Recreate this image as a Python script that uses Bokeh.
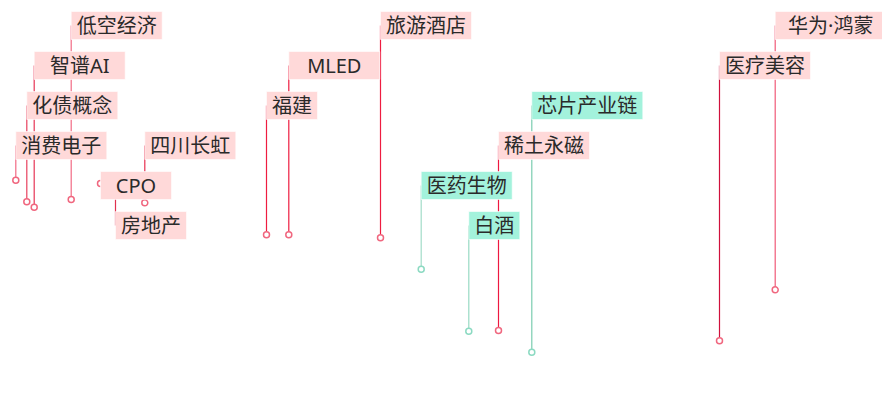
from bokeh.plotting import figure
from bokeh.models import ColumnDataSource, Range1d
from bokeh.core.properties import value
from bokeh.embed import file_html
from bokeh.resources import INLINE

# ---- data ----
names = ["消费电子", "化债概念", "智谱AI", "低空经济", "CPO", "房地产", "四川长虹",
         "福建", "MLED", "旅游酒店", "医药生物", "白酒", "稀土永磁", "芯片产业链",
         "医疗美容", "华为·鸿蒙"]
t_vals = [15.3, 26.3, 33.7, 70.7, 100.0, 115.0, 144.3,
          266.0, 288.3, 380.0, 420.7, 468.3, 498.0, 531.3,
          719.0, 774.7]
y_vals = [220.3, 198.7, 193.3, 201.0, 217.0, 208.0, 197.7,
          165.7, 165.7, 162.7, 131.3, 69.3, 70.0, 48.3,
          59.7, 110.7]
trend = ["up", "up", "up", "up", "up", "up", "up",
         "up", "up", "up", "down", "down", "up", "down",
         "up", "up"]

# ---- styles ----
line_colors = {
    "消费电子": "#f26a84", "化债概念": "#e8405e", "智谱AI": "#e63556", "低空经济": "#f26a84",
    "CPO": "#f26a84", "房地产": "#e0304f", "四川长虹": "#e83050", "福建": "#ee1c40",
    "MLED": "#ee1c40", "旅游酒店": "#ee1c40", "医药生物": "#a2dcc8", "白酒": "#98dac4",
    "稀土永磁": "#ee1840", "芯片产业链": "#7accb0", "医疗美容": "#d0103c", "华为·鸿蒙": "#f05a78",
}
box_fill = {"up": "#ffd9d9", "down": "#a3f2dc"}
dot_line = {"up": "#f0677f", "down": "#8cdac2"}
row_cycle = [3, 2, 1, 0, 4, 5]

order = sorted(range(len(names)), key=lambda i: t_vals[i])
rows = [0] * len(names)
for k, i in enumerate(order):
    rows[i] = row_cycle[k % len(row_cycle)]

top_y = 375
row_step = 40
box_h = 28
widths = [20 * len(n) + 11 for n in names]
box_cy = [top_y - row_step * r for r in rows]
box_cx = [t + w / 2 for t, w in zip(t_vals, widths)]

src = ColumnDataSource(dict(
    name=names, t=t_vals, y=y_vals, cy=box_cy, cx=box_cx, w=widths,
    lc=[line_colors[n] for n in names],
    bf=[box_fill[s] for s in trend],
    dl=[dot_line[s] for s in trend],
))

p = figure(width=882, height=392, output_backend="svg", toolbar_location=None,
           x_range=Range1d(0, 882), y_range=Range1d(8, 400), min_border=0)
p.axis.visible = False
p.grid.visible = False
p.outline_line_color = None
p.background_fill_color = "white"
p.border_fill_color = "white"

p.segment(x0="t", y0="y", x1="t", y1="cy", source=src, line_color="lc", line_width=1.2)
p.scatter(x="t", y="y", source=src, marker="circle", size=6, fill_color="white",
          line_color="dl", line_width=1.5)
p.rect(x="cx", y="cy", width="w", height=box_h, source=src, fill_color="bf",
       line_color="white", line_width=1, line_alpha=0.6)
p.text(x="cx", y="cy", text="name", source=src, text_align="center", text_baseline="middle",
       text_font=value("Noto Sans, Noto Sans CJK SC"), text_font_size="20px",
       text_color="#2a2a2a")

open("out.html", "w").write(file_html(p, INLINE))
